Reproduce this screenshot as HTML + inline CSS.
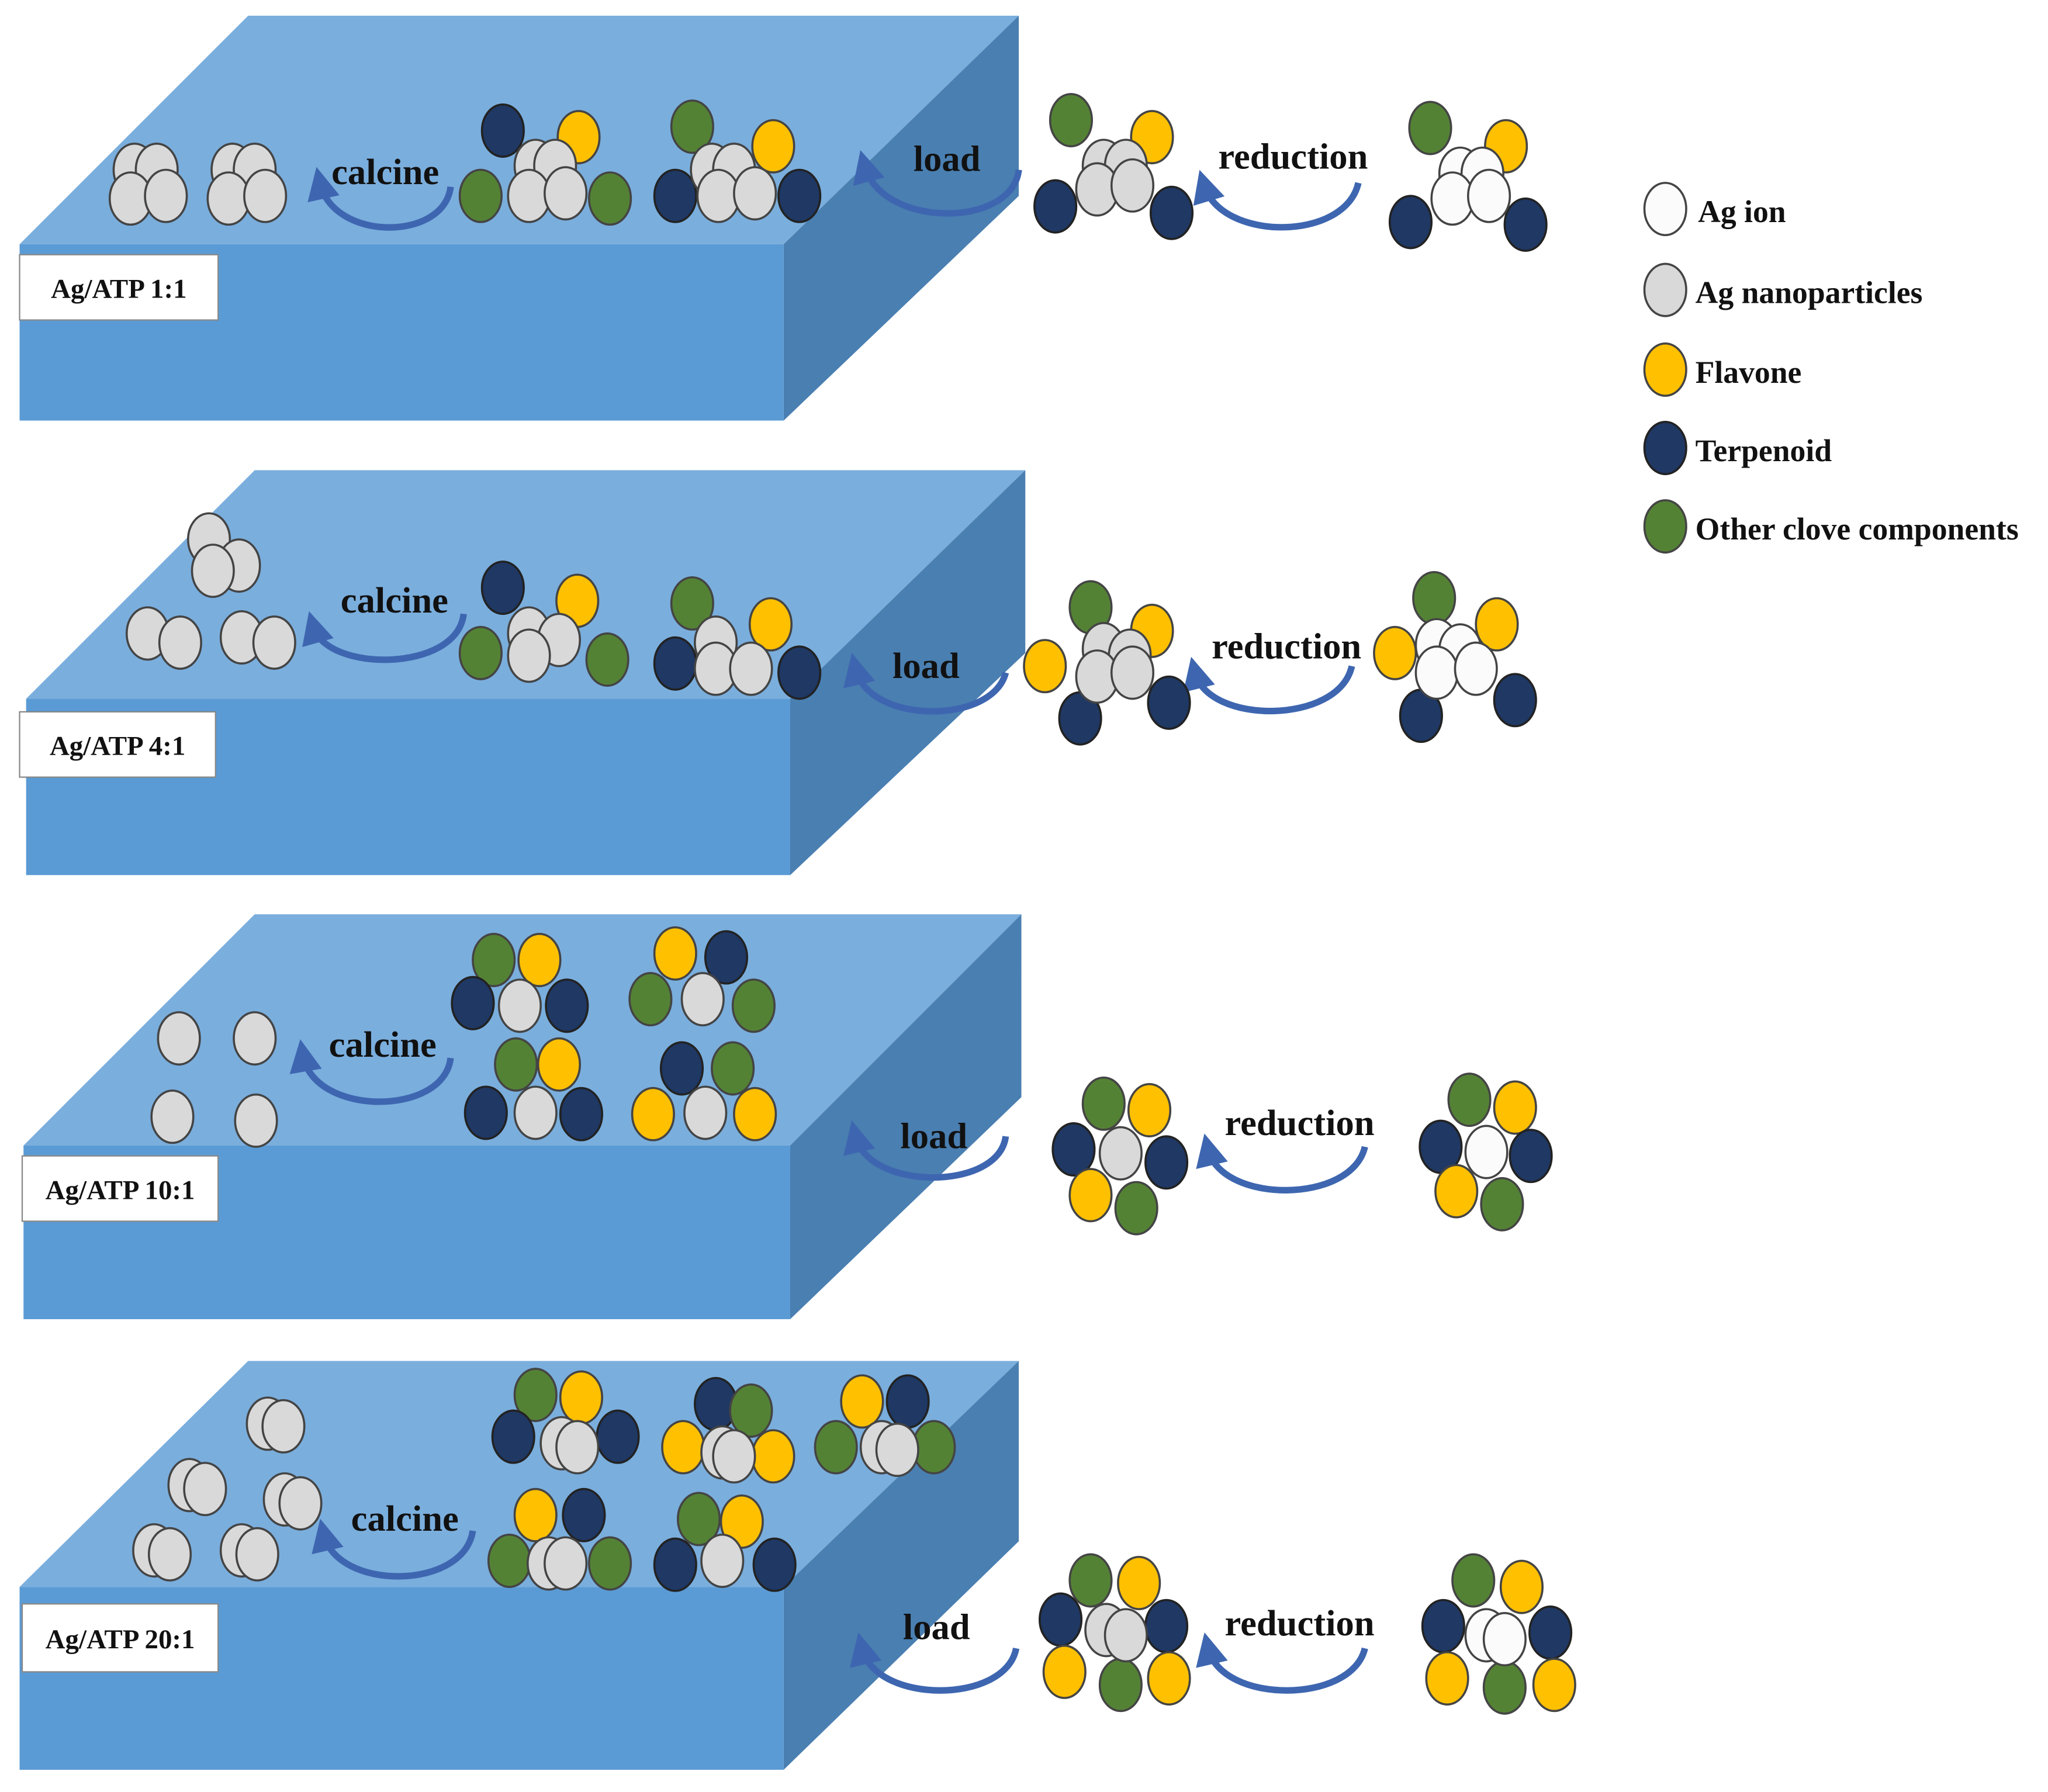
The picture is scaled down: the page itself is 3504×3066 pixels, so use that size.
<!DOCTYPE html>
<html><head><meta charset="utf-8"><style>
html,body{margin:0;padding:0;background:#fff}
svg{display:block}
text{font-family:"Liberation Serif",serif;font-weight:bold;fill:#111}
</style></head><body>
<svg width="3504" height="3066" viewBox="0 0 1568 1372" xmlns="http://www.w3.org/2000/svg">
<defs>
<marker id="ah" markerWidth="5" markerHeight="5" refX="2.5" refY="2.5" orient="auto" markerUnits="strokeWidth"><path d="M0,0 L5,2.5 L0,5 z" fill="#3e66b0"/></marker>
<ellipse id="g" rx="16" ry="20" fill="#d9d9d9" stroke="#444" stroke-width="1.6"/>
<ellipse id="w" rx="16" ry="20" fill="#fbfbfb" stroke="#444" stroke-width="1.6"/>
<ellipse id="y" rx="16" ry="20" fill="#ffc000" stroke="#444" stroke-width="1.6"/>
<ellipse id="n" rx="16" ry="20" fill="#1f3864" stroke="#222" stroke-width="1.6"/>
<ellipse id="e" rx="16" ry="20" fill="#548235" stroke="#444" stroke-width="1.6"/>
</defs>
<g>
<polygon points="15,187 190,12 780,12 600,187" fill="#7aaedd"/>
<polygon points="600,187 780,12 780,150 600,322" fill="#4a7fb1"/>
<rect x="15" y="187" width="585" height="135" fill="#5b9bd5"/>
<rect x="15" y="195" width="152" height="50" fill="#fff" stroke="#888"/>
<text x="91" y="228" font-size="21" text-anchor="middle">Ag/ATP 1:1</text>
</g>
<g>
<polygon points="20,535 195,360 785,360 605,535" fill="#7aaedd"/>
<polygon points="605,535 785,360 785,500 605,670" fill="#4a7fb1"/>
<rect x="20" y="535" width="585" height="135" fill="#5b9bd5"/>
<rect x="15" y="545" width="150" height="50" fill="#fff" stroke="#888"/>
<text x="90" y="578" font-size="21" text-anchor="middle">Ag/ATP 4:1</text>
</g>
<g>
<polygon points="18,877 195,700 782,700 605,877" fill="#7aaedd"/>
<polygon points="605,877 782,700 782,840 605,1010" fill="#4a7fb1"/>
<rect x="18" y="877" width="587" height="133" fill="#5b9bd5"/>
<rect x="17" y="885" width="150" height="50" fill="#fff" stroke="#888"/>
<text x="92" y="918" font-size="21" text-anchor="middle">Ag/ATP 10:1</text>
</g>
<g>
<polygon points="15,1215 190,1042 780,1042 600,1215" fill="#7aaedd"/>
<polygon points="600,1215 780,1042 780,1180 600,1355" fill="#4a7fb1"/>
<rect x="15" y="1215" width="585" height="140" fill="#5b9bd5"/>
<rect x="17" y="1228" width="150" height="52" fill="#fff" stroke="#888"/>
<text x="92" y="1262" font-size="21" text-anchor="middle">Ag/ATP 20:1</text>
</g>

<g fill="none" stroke="#3e66b0" stroke-width="5" marker-end="url(#ah)">
<path d="M345,143 C340,185 255,185 245,140"/>
<path d="M780,130 C775,175 675,175 662,127"/>
<path d="M1040,140 C1030,185 935,185 922,142"/>
<path d="M355,470 C350,515 250,515 240,480"/>
<path d="M770,515 C760,555 665,555 655,512"/>
<path d="M1035,510 C1025,555 925,555 915,515"/>
<path d="M345,810 C340,855 240,855 232,808"/>
<path d="M770,870 C765,912 665,912 655,870"/>
<path d="M1045,878 C1035,922 935,922 925,880"/>
<path d="M362,1172 C355,1218 258,1218 248,1175"/>
<path d="M778,1262 C770,1305 670,1305 660,1262"/>
<path d="M1045,1262 C1035,1305 935,1305 925,1262"/>
</g>
<g font-size="28">
<text x="295" y="141" text-anchor="middle">calcine</text>
<text x="725" y="131" text-anchor="middle">load</text>
<text x="990" y="129" text-anchor="middle">reduction</text>
<text x="302" y="469" text-anchor="middle">calcine</text>
<text x="709" y="519" text-anchor="middle">load</text>
<text x="985" y="504" text-anchor="middle">reduction</text>
<text x="293" y="809" text-anchor="middle">calcine</text>
<text x="715" y="879" text-anchor="middle">load</text>
<text x="995" y="869" text-anchor="middle">reduction</text>
<text x="310" y="1172" text-anchor="middle">calcine</text>
<text x="717" y="1255" text-anchor="middle">load</text>
<text x="995" y="1252" text-anchor="middle">reduction</text>
</g>

<!-- P1 -->
<use href="#g" x="103" y="130"/><use href="#g" x="120" y="130"/><use href="#g" x="100" y="152"/><use href="#g" x="127" y="150"/>
<use href="#g" x="178" y="130"/><use href="#g" x="195" y="130"/><use href="#g" x="175" y="152"/><use href="#g" x="203" y="150"/>
<use href="#n" x="385" y="100"/><use href="#y" x="443" y="105"/><use href="#e" x="368" y="150"/><use href="#e" x="467" y="152"/>
<use href="#g" x="410" y="127"/><use href="#g" x="425" y="127"/><use href="#g" x="405" y="150"/><use href="#g" x="433" y="148"/>
<use href="#e" x="530" y="97"/><use href="#y" x="592" y="112"/><use href="#n" x="517" y="150"/><use href="#n" x="612" y="150"/>
<use href="#g" x="545" y="130"/><use href="#g" x="562" y="130"/><use href="#g" x="550" y="150"/><use href="#g" x="578" y="148"/>
<use href="#e" x="820" y="92"/><use href="#y" x="882" y="105"/><use href="#n" x="808" y="158"/><use href="#n" x="897" y="163"/>
<use href="#g" x="845" y="127"/><use href="#g" x="862" y="127"/><use href="#g" x="840" y="145"/><use href="#g" x="867" y="142"/>
<use href="#e" x="1095" y="98"/><use href="#y" x="1153" y="112"/><use href="#n" x="1080" y="170"/><use href="#n" x="1168" y="172"/>
<use href="#w" x="1118" y="133"/><use href="#w" x="1135" y="133"/><use href="#w" x="1112" y="152"/><use href="#w" x="1140" y="150"/>
<!-- P2 -->
<use href="#g" x="160" y="413"/><use href="#g" x="183" y="433"/><use href="#g" x="163" y="437"/>
<use href="#g" x="113" y="485"/><use href="#g" x="138" y="492"/>
<use href="#g" x="185" y="488"/><use href="#g" x="210" y="492"/>
<use href="#n" x="385" y="450"/><use href="#y" x="442" y="460"/><use href="#e" x="368" y="500"/><use href="#e" x="465" y="505"/>
<use href="#g" x="405" y="485"/><use href="#g" x="428" y="490"/><use href="#g" x="405" y="502"/>
<use href="#e" x="530" y="462"/><use href="#y" x="590" y="478"/><use href="#n" x="517" y="508"/><use href="#n" x="612" y="515"/>
<use href="#g" x="548" y="492"/><use href="#g" x="548" y="512"/><use href="#g" x="575" y="512"/>
<use href="#e" x="835" y="465"/><use href="#y" x="882" y="483"/><use href="#y" x="800" y="510"/><use href="#n" x="827" y="550"/><use href="#n" x="895" y="538"/>
<use href="#g" x="845" y="497"/><use href="#g" x="865" y="502"/><use href="#g" x="840" y="518"/><use href="#g" x="867" y="515"/>
<use href="#e" x="1098" y="458"/><use href="#y" x="1146" y="478"/><use href="#y" x="1068" y="500"/><use href="#n" x="1088" y="548"/><use href="#n" x="1160" y="536"/>
<use href="#w" x="1100" y="494"/><use href="#w" x="1118" y="498"/><use href="#w" x="1100" y="515"/><use href="#w" x="1130" y="512"/>
<!-- P3 -->
<use href="#g" x="137" y="795"/><use href="#g" x="195" y="795"/><use href="#g" x="132" y="855"/><use href="#g" x="196" y="858"/>
<use href="#e" x="378" y="735"/><use href="#y" x="413" y="735"/><use href="#n" x="362" y="768"/><use href="#n" x="434" y="770"/><use href="#g" x="398" y="770"/>
<use href="#y" x="517" y="730"/><use href="#n" x="556" y="733"/><use href="#e" x="498" y="765"/><use href="#e" x="577" y="770"/><use href="#g" x="538" y="765"/>
<use href="#e" x="395" y="815"/><use href="#y" x="428" y="815"/><use href="#n" x="372" y="852"/><use href="#n" x="445" y="853"/><use href="#g" x="410" y="852"/>
<use href="#n" x="522" y="818"/><use href="#e" x="561" y="818"/><use href="#y" x="500" y="853"/><use href="#y" x="578" y="853"/><use href="#g" x="540" y="852"/>
<use href="#e" x="845" y="845"/><use href="#y" x="880" y="850"/><use href="#n" x="822" y="880"/><use href="#n" x="893" y="890"/><use href="#y" x="835" y="915"/><use href="#e" x="870" y="925"/><use href="#g" x="858" y="883"/>
<use href="#e" x="1125" y="842"/><use href="#y" x="1160" y="848"/><use href="#n" x="1103" y="878"/><use href="#n" x="1172" y="885"/><use href="#y" x="1115" y="912"/><use href="#e" x="1150" y="922"/><use href="#w" x="1138" y="882"/>
<!-- P4 -->
<use href="#g" x="205" y="1090"/><use href="#g" x="217" y="1092"/>
<use href="#g" x="145" y="1137"/><use href="#g" x="157" y="1140"/>
<use href="#g" x="218" y="1148"/><use href="#g" x="230" y="1151"/>
<use href="#g" x="118" y="1187"/><use href="#g" x="130" y="1190"/>
<use href="#g" x="185" y="1187"/><use href="#g" x="197" y="1190"/>
<use href="#e" x="410" y="1068"/><use href="#y" x="445" y="1070"/><use href="#n" x="393" y="1100"/><use href="#n" x="473" y="1100"/><use href="#g" x="430" y="1105"/><use href="#g" x="442" y="1108"/>
<use href="#n" x="548" y="1075"/><use href="#e" x="575" y="1080"/><use href="#y" x="523" y="1108"/><use href="#y" x="592" y="1115"/><use href="#g" x="553" y="1112"/><use href="#g" x="562" y="1115"/>
<use href="#y" x="660" y="1073"/><use href="#n" x="695" y="1073"/><use href="#e" x="640" y="1108"/><use href="#e" x="715" y="1108"/><use href="#g" x="675" y="1108"/><use href="#g" x="687" y="1110"/>
<use href="#y" x="410" y="1160"/><use href="#n" x="447" y="1160"/><use href="#e" x="390" y="1195"/><use href="#e" x="467" y="1197"/><use href="#g" x="420" y="1197"/><use href="#g" x="433" y="1197"/>
<use href="#e" x="535" y="1163"/><use href="#y" x="568" y="1165"/><use href="#n" x="517" y="1198"/><use href="#n" x="593" y="1198"/><use href="#g" x="553" y="1195"/>
<use href="#e" x="835" y="1210"/><use href="#y" x="872" y="1212"/><use href="#n" x="812" y="1240"/><use href="#n" x="893" y="1245"/><use href="#y" x="815" y="1280"/><use href="#e" x="858" y="1290"/><use href="#y" x="895" y="1285"/><use href="#g" x="847" y="1248"/><use href="#g" x="862" y="1252"/>
<use href="#e" x="1128" y="1210"/><use href="#y" x="1165" y="1215"/><use href="#n" x="1105" y="1245"/><use href="#n" x="1187" y="1250"/><use href="#y" x="1108" y="1285"/><use href="#e" x="1152" y="1292"/><use href="#y" x="1190" y="1290"/><use href="#w" x="1138" y="1252"/><use href="#w" x="1152" y="1255"/>
<!-- legend -->
<use href="#w" x="1275" y="160"/>
<use href="#g" x="1275" y="222"/>
<use href="#y" x="1275" y="283"/>
<use href="#n" x="1275" y="343"/>
<use href="#e" x="1275" y="403"/>
<g font-size="24">
<text x="1300" y="170">Ag ion</text>
<text x="1298" y="232">Ag nanoparticles</text>
<text x="1298" y="293">Flavone</text>
<text x="1298" y="353">Terpenoid</text>
<text x="1298" y="413">Other clove components</text>
</g>
</svg>
</body></html>
